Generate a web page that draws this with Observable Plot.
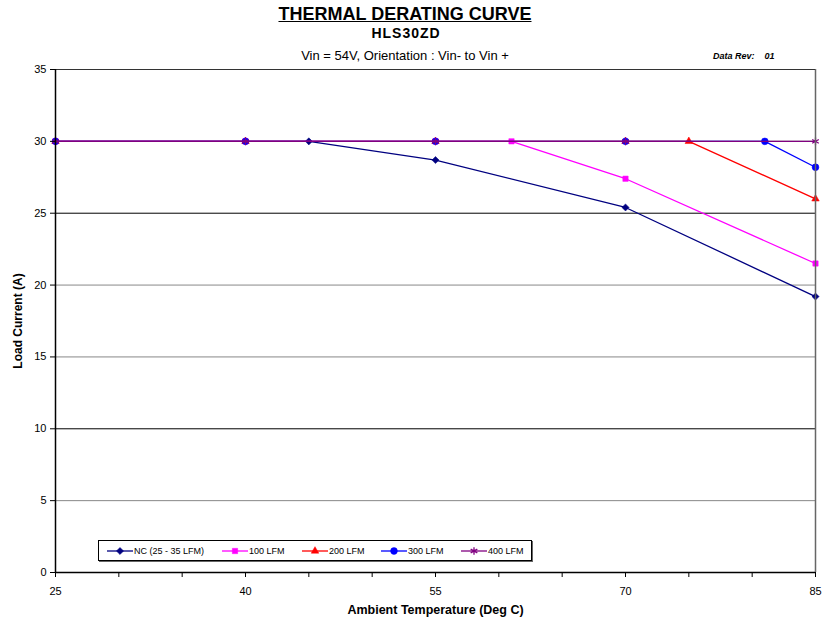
<!DOCTYPE html>
<html>
<head>
<meta charset="utf-8">
<script src="https://cdn.jsdelivr.net/npm/d3@7"></script>
<script src="https://cdn.jsdelivr.net/npm/@observablehq/plot@0.6"></script>
<style>
  body { margin: 0; background: #fff; font-family: "Liberation Sans", Arial, sans-serif; }
  #wrap { position: relative; width: 824px; height: 624px; }
  #wrap svg { position: absolute; left: 0; top: 0; }
  .t { position: absolute; white-space: nowrap; color: #000; }
  #legend { position: absolute; left: 98px; top: 540px; width: 432px; height: 19px; border: 1px solid #000; box-shadow: 1px 1px 0 #666; background: #fff; font-size: 9px; }
  .item { position: absolute; top: 0; height: 19px; display: flex; align-items: center; }
  .item span { margin-left: 1px; }
</style>
</head>
<body>
<div id="wrap">
  <div class="t" style="left:0;width:810px;text-align:center;top:4px;font-size:18px;font-weight:bold;text-decoration:underline;">THERMAL DERATING CURVE</div>
  <div class="t" style="left:0;width:812px;text-align:center;top:25px;font-size:14px;font-weight:bold;letter-spacing:1px;">HLS30ZD</div>
  <div class="t" style="left:0;width:810px;text-align:center;top:48px;font-size:13px;">Vin = 54V, Orientation : Vin- to Vin +</div>
  <div class="t" style="left:713px;top:51px;font-size:9px;font-weight:bold;font-style:italic;">Data Rev:&nbsp;&nbsp;&nbsp; 01</div>
  <div id="legend"></div>
</div>
<script>
// ---- data ----
const seriesNames = ["NC (25 - 35 LFM)", "100 LFM", "200 LFM", "300 LFM", "400 LFM"];
const ncTemp = [25, 40, 45, 55, 70, 85];
const ncLoad = [30, 30, 30, 28.7, 25.4, 19.2];
const lfm100Temp = [25, 40, 55, 61, 70, 85];
const lfm100Load = [30, 30, 30, 30, 27.4, 21.5];
const lfm200Temp = [25, 40, 55, 70, 75, 85];
const lfm200Load = [30, 30, 30, 30, 30, 26];
const lfm300Temp = [25, 40, 55, 70, 81, 85];
const lfm300Load = [30, 30, 30, 30, 30, 28.2];
const lfm400Temp = [25, 40, 55, 70, 85];
const lfm400Load = [30, 30, 30, 30, 30];
const xTickLabels = [25, 40, 55, 70, 85];
const yTicks = [0, 5, 10, 15, 20, 25, 30, 35];

// ---- styles ----
const colors = ["#000080", "#ff00ff", "#ff0000", "#0000ff", "#800080"];
const symbols = ["diamond2", "square2", "triangle2", "circle", "asterisk"];
const sizes = [3.2, 3.4, 3.6, 3.4, 3.6];

const series = [
  [ncTemp, ncLoad], [lfm100Temp, lfm100Load], [lfm200Temp, lfm200Load],
  [lfm300Temp, lfm300Load], [lfm400Temp, lfm400Load]
].map(([t, l], i) => t.map((x, j) => ({x, y: l[j], s: seriesNames[i]})));

const marks = [
  Plot.ruleY([5, 15, 20], {stroke: "#888", strokeWidth: 1}),
  Plot.ruleY([10, 25, 30], {stroke: "#000", strokeWidth: 1}),
];
series.forEach((d, i) => {
  marks.push(Plot.line(d, {x: "x", y: "y", stroke: colors[i], strokeWidth: 1.3}));
  marks.push(Plot.dot(d, {x: "x", y: "y", symbol: () => symbols[i], fill: i === 4 ? "none" : colors[i], stroke: colors[i], strokeWidth: i === 4 ? 1.3 : 0.5, r: sizes[i]}));
});
marks.push(
  Plot.ruleX([85], {stroke: "#666", strokeWidth: 1.5}),
  Plot.ruleY([35], {stroke: "#333", strokeWidth: 1}),
  Plot.ruleX([25], {stroke: "#000", strokeWidth: 1.5}),
  Plot.ruleY([0], {stroke: "#000", strokeWidth: 1.5}),
  Plot.axisX(d3.range(25, 86, 5), {tickSize: 5, tickFormat: () => "", label: null}),
  Plot.axisX(xTickLabels, {tickSize: 5, tickPadding: 10, fontSize: 11, label: null}),
  Plot.axisY(yTicks, {tickSize: 5, tickPadding: 4, fontSize: 11, label: null}),
  Plot.text(["Ambient Temperature (Deg C)"], {frameAnchor: "bottom", dy: 41, fontWeight: "bold", fontSize: 12.5}),
  Plot.text(["Load Current (A)"], {frameAnchor: "left", dx: -37, rotate: -90, textAnchor: "middle", fontWeight: "bold", fontSize: 12})
);

const chart = Plot.plot({
  width: 824, height: 624,
  marginTop: 69, marginBottom: 52, marginLeft: 55, marginRight: 9,
  style: {fontFamily: "'Liberation Sans', Arial, sans-serif", fontSize: "11px", background: "transparent"},
  x: {domain: [25, 85]},
  y: {domain: [0, 35]},
  marks
});
const wrap = document.getElementById("wrap");
wrap.insertBefore(chart, wrap.firstChild);

// ---- legend ----
const legend = document.getElementById("legend");
const itemLeft = [8, 123, 203, 282, 362];
seriesNames.forEach((name, i) => {
  const div = document.createElement("div");
  div.className = "item";
  div.style.left = itemLeft[i] + "px";
  const sym = {diamond2: d3.symbolDiamond2, square2: d3.symbolSquare2, triangle2: d3.symbolTriangle2, circle: d3.symbolCircle, asterisk: d3.symbolAsterisk}[symbols[i]];
  const path = d3.symbol(sym, Math.PI * sizes[i] * sizes[i])();
  div.innerHTML = `<svg width="26" height="10" style="position:static"><line x1="0" x2="26" y1="5" y2="5" stroke="${colors[i]}" stroke-width="1.3"/>` +
    `<path transform="translate(13,5)" d="${path}" fill="${i === 4 ? "none" : colors[i]}" stroke="${colors[i]}" stroke-width="${i === 4 ? 1.3 : 0.5}"/></svg><span>${name}</span>`;
  legend.appendChild(div);
});
</script>
</body>
</html>
